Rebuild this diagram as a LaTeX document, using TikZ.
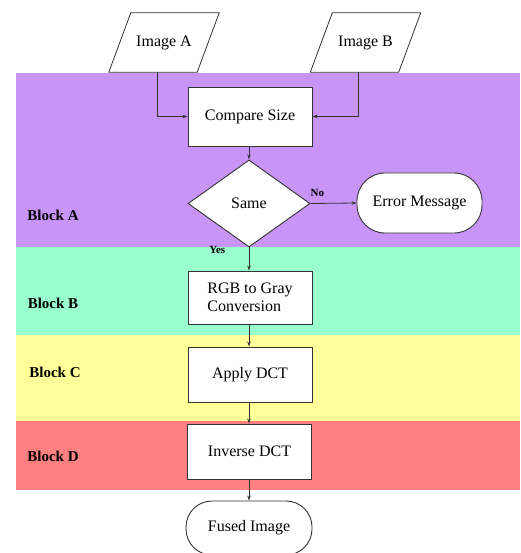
\documentclass[tikz,border=0pt]{standalone}
\usepackage{fontspec}
\setmainfont{Liberation Serif}
\usetikzlibrary{shapes.geometric,arrows.meta}

\definecolor{bandA}{HTML}{C894F8}
\definecolor{bandB}{HTML}{99FFCC}
\definecolor{bandC}{HTML}{FFFF99}
\definecolor{bandD}{HTML}{FF8080}
\definecolor{linecol}{HTML}{333333}

\tikzset{
  every node/.style={font=\fontsize{16}{18}\selectfont},
  procbox/.style={draw=linecol, fill=white, line width=0.9pt, minimum width=124pt,
                  minimum height=56pt, inner sep=2pt},
  % body of an input parallelogram; the slanted outline is drawn from its corners
  iobody/.style={minimum width=88pt, minimum height=59pt, inner sep=2pt},
  ioline/.style={draw=linecol, fill=white, line width=0.8pt},
  termbox/.style={draw=linecol, fill=white, line width=0.9pt, rounded corners=26pt,
                  minimum width=126pt, minimum height=58pt},
  decision/.style={diamond, draw=linecol, fill=white, line width=0.9pt, aspect=1.4,
                   minimum width=122pt, minimum height=87pt, inner sep=0pt},
  blocklabel/.style={font=\fontsize{15}{17}\selectfont\bfseries},
  flowlabel/.style={font=\fontsize{11}{13}\selectfont\bfseries},
  flow/.style={draw=linecol, line width=0.8pt, -{Stealth[length=5pt,width=3.5pt]}}
}

\newcommand{\ioshape}[1]{%
  \path[ioline] ([xshift=-11pt]#1.south west) -- ([xshift=-11pt]#1.south east)
    -- ([xshift=11pt]#1.north east) -- ([xshift=11pt]#1.north west) -- cycle;}

\begin{document}
\begin{tikzpicture}[x=1pt, y=-1pt]
  \useasboundingbox (0,0) rectangle (520,553);

  % coloured background bands
  \fill[bandA] (16,73) rectangle (520,247);
  \fill[bandB] (16,247) rectangle (520,335);
  \fill[bandC] (16,335) rectangle (520,421);
  \fill[bandD] (16,421) rectangle (520,490);

  % block labels
  \node[blocklabel] (lblA) at (53,215) {Block A};
  \node[blocklabel] (lblB) at (53,303) {Block B};
  \node[blocklabel] (lblC) at (55,372) {Block C};
  \node[blocklabel] (lblD) at (53,456) {Block D};

  % input parallelograms
  \node[iobody] (imgA) at (164,42.5) {};
  \ioshape{imgA}
  \node at (imgA.center) {Image A};
  \node[iobody] (imgB) at (365.5,42.5) {};
  \ioshape{imgB}
  \node at (imgB.center) {Image B};

  % flowchart nodes
  \node[procbox, minimum height=59pt] (cmp) at (250,116.5) {Compare Size};
  \node[decision] (same) at (249,203.5) {Same};
  \node[termbox, minimum width=125pt, minimum height=60pt, rounded corners=28pt] (err) at (419.5,203) {Error Message};
  \node[procbox, minimum height=53pt, align=left] (rgb) at (250,297.5) {RGB to Gray\\Conversion};
  \node[procbox, minimum height=55pt] (dct) at (250,374.5) {Apply DCT};
  \node[procbox, minimum height=55pt] (idct) at (249.5,451.5) {Inverse DCT};
  \node[termbox, minimum height=54pt] (fused) at (249,528) {Fused Image};

  % connectors
  \draw[flow] ([xshift=-7pt]imgA.south) |- (cmp.west);
  \draw[flow] ([xshift=-7pt]imgB.south) |- (cmp.east);
  \draw[flow] (cmp.south -| same.north) -- (same.north);
  \draw[flow] (same.east) -- node[flowlabel, above, pos=0.15, yshift=3pt] {No} (err.west);
  \draw[flow] (same.south) -- node[flowlabel, left, pos=0.12, xshift=-20pt] {Yes} (rgb.north -| same.south);
  \draw[flow] (rgb.south -| same.south) -- (dct.north -| same.south);
  \draw[flow] (dct.south -| same.south) -- (idct.north -| same.south);
  \draw[flow] (idct.south -| same.south) -- (fused.north -| same.south);
\end{tikzpicture}
\end{document}
